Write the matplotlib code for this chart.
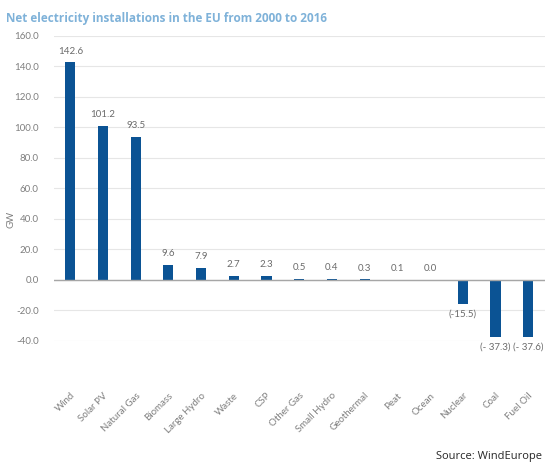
import matplotlib.pyplot as plt
import numpy as np

categories = ["Wind", "Solar PV", "Natural Gas", "Biomass", "Large Hydro", "Waste", "CSP",
              "Other Gas", "Small Hydro", "Geothermal", "Peat", "Ocean", "Nuclear", "Coal", "Fuel Oil"]
values = [142.6, 101.2, 93.5, 9.6, 7.9, 2.7, 2.3, 0.5, 0.4, 0.3, 0.1, 0.0, -15.5, -37.3, -37.6]
labels = ["142.6", "101.2", "93.5", "9.6", "7.9", "2.7", "2.3", "0.5", "0.4", "0.3", "0.1", "0.0",
          "(-15.5)", "(- 37.3)", "(- 37.6)"]
yticks = [-40, -20, 0, 20, 40, 60, 80, 100, 120, 140, 160]

plt.rcParams['font.family'] = ['Lato', 'DejaVu Sans']
grey = "#7f7f7f"

fig = plt.figure(figsize=(5.5, 4.67), dpi=100)
ax = fig.add_axes([0.098, 0.27, 0.892, 0.653])

x = np.arange(len(categories))
ax.bar(x, values, width=0.31, color="#0b5394", zorder=3)

# value labels: above positive bars, below negative ones
for xi, v, lab in zip(x, values, labels):
    if v >= 0:
        ax.annotate(lab, (xi, v), xytext=(0, 5), textcoords="offset points",
                    ha="center", va="bottom", fontsize=7, color="#6b6b6b")
    else:
        ax.annotate(lab, (xi, v), xytext=(0, -4), textcoords="offset points",
                    ha="center", va="top", fontsize=7, color="#6b6b6b")

ax.set_xlim(-0.5, len(categories) - 0.5)
ax.set_ylim(-40, 160)
ax.set_yticks(yticks)
ax.set_yticklabels([f"{t:.1f}" for t in yticks])
ax.yaxis.grid(True, color="#e6e6e6", linewidth=0.8, zorder=0)
ax.axhline(0, color="#a6a6a6", linewidth=1, zorder=4)
for s in ax.spines.values():
    s.set_visible(False)
ax.tick_params(axis="both", length=0, labelsize=7, colors=grey)
ax.tick_params(axis="y", pad=11)
ax.set_xticks(x)
ax.set_xticklabels(categories, rotation=45, ha="right", rotation_mode="anchor")
ax.tick_params(axis="x", pad=36)
fig.text(0.02, 0.27 + 0.653 * 0.4, "GW", rotation=90, fontsize=7, color=grey,
         ha="center", va="center")

fig.text(0.01, 0.975, "Net electricity installations in the EU from 2000 to 2016",
         fontsize=8.5, fontweight="bold", color="#7fb2d9", family=["Open Sans", "DejaVu Sans"],
         va="top")
fig.text(0.985, 0.018, "Source: WindEurope", fontsize=8, color="#262626", ha="right",
         family=["Open Sans", "DejaVu Sans"])

fig.savefig("out.png", dpi=100)
